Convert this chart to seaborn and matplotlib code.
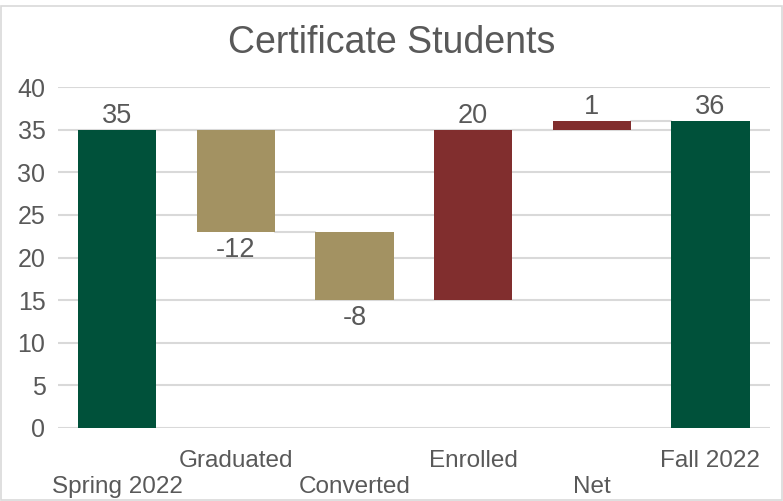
import matplotlib
matplotlib.use('Agg')
import matplotlib.pyplot as plt
import seaborn as sns
from matplotlib.patches import Rectangle

# Данные
categories = ['Spring 2022', 'Graduated', 'Converted', 'Enrolled', 'Net', 'Fall 2022']
changes = [35, -12, -8, 20, 1, 36]
is_total = [True, False, False, False, False, True]
colors = ['#00513A', '#A39262', '#A39262', '#812E2E', '#812E2E', '#00513A']

# Считаем основания столбцов
bottoms = []
running = 0
for v, tot in zip(changes, is_total):
    if tot:
        bottoms.append(0)
        running = v
    else:
        bottoms.append(running)
        running += v

sns.set_style('white')
plt.rcParams['font.family'] = ['Liberation Sans', 'DejaVu Sans']
text_color = '#595959'
grid_color = '#D9D9D9'

fig = plt.figure(figsize=(7.83, 5.01), dpi=100)
ax = fig.add_axes([0.074, 0.146, 0.909, 0.68])

sns.barplot(x=categories, y=changes, bottom=bottoms, color=colors[0],
            width=0.66, ax=ax, zorder=3, linewidth=0, errorbar=None)

patches = sorted([p for p in ax.patches if p.get_width() > 0], key=lambda p: p.get_x())
for p, c in zip(patches, colors):
    p.set_facecolor(c)

ax.set_ylim(0, 40)
ax.set_xlim(-0.5, len(categories) - 0.5)
ax.set_yticks(range(0, 41, 5))
ax.yaxis.grid(True, color=grid_color, linewidth=1.5, zorder=0)
ax.set_axisbelow(True)
for s in ax.spines.values():
    s.set_visible(False)
ax.tick_params(axis='both', length=0, labelsize=18, colors=text_color)
ax.tick_params(axis='y', pad=9)

# Подписи оси X в два ряда
labels = [('\n' + c) if i % 2 == 0 else c for i, c in enumerate(categories)]
ax.set_xticks(range(len(categories)))
ax.set_xticklabels(labels, fontsize=17.5, color=text_color, linespacing=1.25)
ax.tick_params(axis='x', pad=16)

# Соединительные линии и подписи значений
for i, p in enumerate(patches):
    x0 = p.get_x()
    w = p.get_width()
    y0 = p.get_y()
    h = p.get_height()
    top = max(y0, y0 + h)
    low = min(y0, y0 + h)
    if changes[i] >= 0:
        ax.text(x0 + w / 2, top + 0.1, str(changes[i]), ha='center', va='bottom',
                fontsize=19.5, color=text_color)
    else:
        ax.text(x0 + w / 2, low - 0.6, str(changes[i]), ha='center', va='top',
                fontsize=19.5, color=text_color)
    if i < len(patches) - 1:
        end = y0 + h
        nxt = patches[i + 1]
        ax.plot([x0 + w, nxt.get_x()], [end, end], color=grid_color, linewidth=1.5, zorder=2)

fig.text(0.5, 0.914, 'Certificate Students', ha='center', va='center',
         fontsize=27, color=text_color)

fig.patches.append(Rectangle((0.001, 0.001), 0.998, 0.988, transform=fig.transFigure,
                             fill=False, edgecolor=grid_color, linewidth=1.2))

plt.savefig('out.png', dpi=100)
plt.close()
